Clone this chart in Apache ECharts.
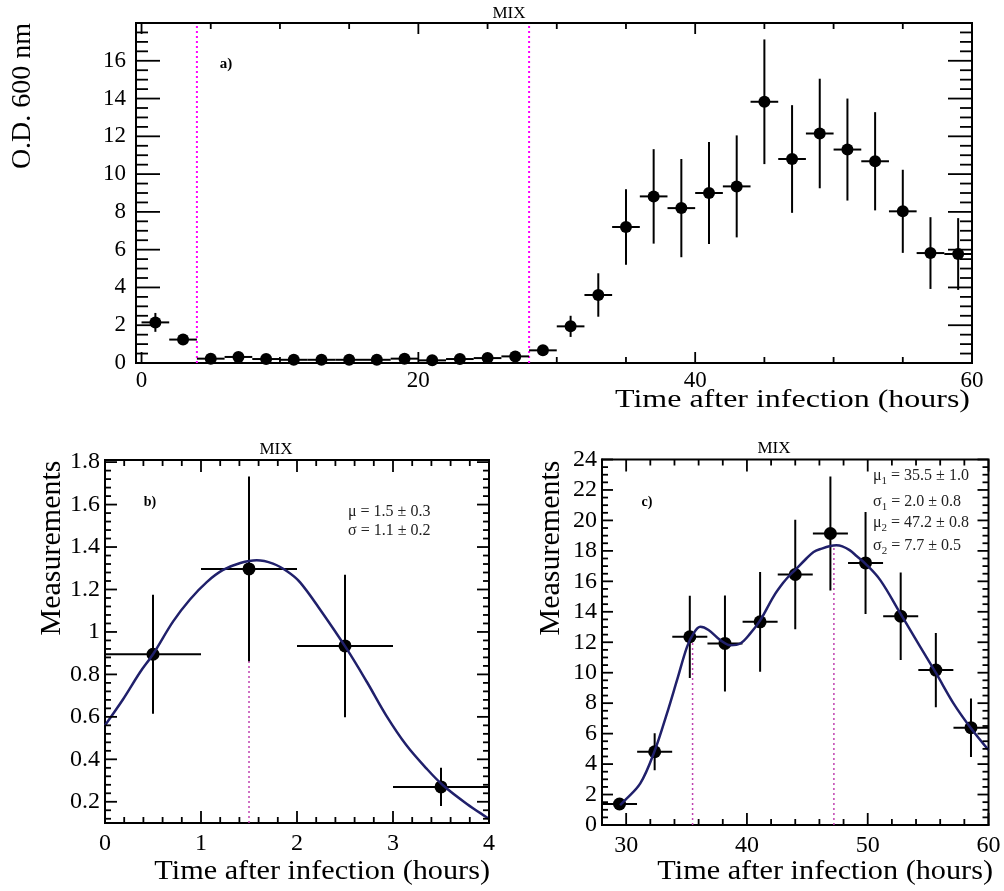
<!DOCTYPE html>
<html><head><meta charset="utf-8">
<script src="https://cdn.jsdelivr.net/npm/echarts@6/dist/echarts.min.js"></script>
<style>html,body{margin:0;padding:0;background:#fff}#c{width:1004px;height:891px}</style>
</head><body><div id="c"></div>
<script>
// ---------- Panel a: O.D. 600 nm vs time ----------
const aX = [1,3,5,7,9,11,13,15,17,19,21,23,25,27,29,31,33,35,37,39,41,43,45,47,49,51,53,55,57,59];
const aY = [2.15,1.24,0.23,0.32,0.21,0.17,0.17,0.17,0.17,0.23,0.14,0.21,0.26,0.35,0.67,1.94,3.6,7.2,8.82,8.2,9.0,9.35,13.83,10.8,12.15,11.3,10.68,8.03,5.82,5.77];
const aYErr = [0.5,0.2,0.05,0.05,0.05,0.05,0.05,0.05,0.05,0.05,0.05,0.05,0.05,0.08,0.1,0.56,1.15,2.0,2.5,2.6,2.7,2.7,3.3,2.85,2.9,2.7,2.6,2.2,1.9,1.9];
const aXHalf = 1;
const aLinesX = [4, 28];
const aXLabels = [0, 20, 40, 60];
const aYLabels = [0, 2, 4, 6, 8, 10, 12, 14, 16];
const aYMajor = [0, 2, 4, 6, 8, 10, 12, 14, 16, 18];

// ---------- Panel b: 0-4 h fit ----------
const bX = [0.5, 1.5, 2.5, 3.5];
const bY = [0.895, 1.297, 0.934, 0.27];
const bYErr = [0.28, 0.435, 0.336, 0.09];
const bXHalf = 0.5;
const bCurveX = [0,0.19,0.365,0.5,0.71,0.885,1.06,1.23,1.41,1.58,1.75,1.9,2.03,2.24,2.52,2.73,2.93,3.14,3.35,3.52,3.77,4.0];
const bCurveY = [0.56,0.684,0.81,0.895,1.05,1.153,1.235,1.292,1.325,1.338,1.322,1.285,1.235,1.106,0.919,0.763,0.606,0.466,0.356,0.278,0.19,0.12];
const bMuX = [1.5];
const bMuTop = [1.33];
const bXLabels = [0, 1, 2, 3, 4];
const bYLabels = [0.2, 0.4, 0.6, 0.8, 1, 1.2, 1.4, 1.6, 1.8];

// ---------- Panel c: 28-60 h fit ----------
const cX = [29.45,32.36,35.27,38.18,41.09,44.0,46.91,49.82,52.73,55.64,58.55];
const cY = [1.38,4.81,12.36,11.92,13.34,16.45,19.14,17.21,13.71,10.17,6.39];
const cYErr = [0.3,1.22,2.7,3.15,3.28,3.6,3.75,3.35,2.87,2.43,1.92];
const cXHalf = 1.45;
const cCurveX = [29.5,29.79,31.17,32.33,33.38,34.21,35.04,35.58,36.14,36.82,37.79,38.62,39.45,40.28,41.11,42.2,43.0,43.6,44.0,44.8,45.52,46.2,46.9,47.4,47.9,48.5,49.1,49.8,51.04,52.7,54.35,55.67,57.1,58.55,60.0];
const cCurveY = [1.3,1.53,2.73,4.8,7.33,9.51,11.7,12.58,13.01,12.8,12.14,11.81,11.92,12.58,13.45,15.0,15.9,16.45,16.75,17.4,17.93,18.15,18.32,18.37,18.3,18.05,17.65,17.17,16.08,13.89,11.7,9.95,7.99,6.35,4.92];
const cMuX = [35.5, 47.2];
const cMuTop = [12.5, 18.3];
const cXLabels = [30, 40, 50, 60];
const cYLabels = [0,2,4,6,8,10,12,14,16,18,20,22,24];

const FONT = "'Liberation Serif','Times New Roman',serif";

function steps(start, end, step) {
  const out = [];
  for (let i = 0; ; i++) {
    const v = +(start + i * step).toFixed(6);
    if (v > end + 1e-9) break;
    out.push(v);
  }
  return out;
}
function minorsOf(start, end, step, majors) {
  return steps(start, end, step).filter(v => !majors.some(m => Math.abs(m - v) < 1e-6));
}

function axisOf(dim, gi, min, max, labels, fs, margin) {
  return {type: 'value', gridIndex: gi, min: min, max: max, position: dim === 'x' ? 'bottom' : 'left', silent: true,
    splitLine: {show: false},
    axisLine: {show: true, onZero: false, lineStyle: {color: '#000', width: 2}},
    axisTick: {show: false},
    axisLabel: {show: true, customValues: labels, color: '#000', fontFamily: FONT, fontSize: fs, margin: margin}};
}

// Frame ticks (inside, on all four sides), positioned through the axis scales.
function makeTickRender(ext) {
  return function (params, api) {
    const isX = api.value(2) === 0;
    const len = api.value(3);
    const st = {stroke: '#000', lineWidth: 1.8};
    const c00 = api.coord([ext[0], ext[2]]);
    const c11 = api.coord([ext[1], ext[3]]);
    const xl = c00[0], xr = c11[0], yb = c00[1], yt = c11[1];
    let shapes;
    if (isX) {
      const px = api.coord([api.value(0), ext[2]])[0];
      shapes = [[px, yb, px, yb - len], [px, yt, px, yt + len]];
    } else {
      const py = api.coord([ext[0], api.value(1)])[1];
      shapes = [[xl, py, xl + len, py], [xr, py, xr - len, py]];
    }
    return {type: 'group', children: shapes.map(s => ({type: 'line', shape: {x1: s[0], y1: s[1], x2: s[2], y2: s[3]}, style: st}))};
  };
}
function tickSeries(gi, ext, xMaj, xMin, yMaj, yMin, xLens, yLens) {
  const xRef = (ext[0] + ext[1]) / 2, yRef = (ext[2] + ext[3]) / 2;
  const rows = [];
  xMaj.forEach(v => rows.push([v, yRef, 0, xLens[0]]));
  xMin.forEach(v => rows.push([v, yRef, 0, xLens[1]]));
  yMaj.forEach(v => rows.push([xRef, v, 1, yLens[0]]));
  yMin.forEach(v => rows.push([xRef, v, 1, yLens[1]]));
  return {type: 'custom', xAxisIndex: gi, yAxisIndex: gi, renderItem: makeTickRender(ext), clip: false, z: 6,
    silent: true, encode: {x: 0, y: 1}, data: rows};
}

function errRender(params, api) {
  const x = api.value(0), y = api.value(1), ey = api.value(2), ex = api.value(3);
  const p0 = api.coord([x, y - ey]), p1 = api.coord([x, y + ey]);
  const h0 = api.coord([x - ex, y]), h1 = api.coord([x + ex, y]);
  const style = {stroke: '#000', lineWidth: 2};
  return {type: 'group', children: [
    {type: 'line', shape: {x1: p0[0], y1: p0[1], x2: p1[0], y2: p1[1]}, style: style},
    {type: 'line', shape: {x1: h0[0], y1: h0[1], x2: h1[0], y2: h1[1]}, style: style}
  ]};
}
function panelSeries(gi, xs, ys, errs, half, size) {
  return [
    {type: 'custom', xAxisIndex: gi, yAxisIndex: gi, renderItem: errRender, clip: true, z: 3,
     encode: {x: 0, y: 1}, silent: true,
     data: xs.map((x, i) => [x, ys[i], errs[i], half])},
    {type: 'scatter', xAxisIndex: gi, yAxisIndex: gi, symbol: 'circle', symbolSize: size, z: 4,
     itemStyle: {color: '#000', opacity: 1}, silent: true,
     data: xs.map((x, i) => [x, ys[i]])}
  ];
}
function vline(gi, x, y0, y1, color, width, dash) {
  return {type: 'line', xAxisIndex: gi, yAxisIndex: gi, symbol: 'none', z: 2, silent: true,
    lineStyle: {color: color, width: width, type: dash}, data: [[x, y0], [x, y1]]};
}
function curve(gi, xs, ys) {
  return {type: 'line', xAxisIndex: gi, yAxisIndex: gi, symbol: 'none', smooth: 0.35, z: 5, silent: true,
    lineStyle: {color: '#20206b', width: 2.5}, data: xs.map((x, i) => [x, ys[i]])};
}

const extA = [-0.4, 60, 0, 18];
const extB = [0, 4, 0.1, 1.81];
const extC = [28, 60, 0, 24];

const frame = {show: true, borderColor: '#000', borderWidth: 2, backgroundColor: 'transparent'};
const grids = [
  Object.assign({left: 136, top: 23, width: 836, height: 340}, frame),
  Object.assign({left: 105, top: 460, width: 384, height: 363}, frame),
  Object.assign({left: 602, top: 459.5, width: 386.5, height: 365.5}, frame)
];

const xAxes = [
  axisOf('x', 0, extA[0], extA[1], aXLabels, 23, 6),
  axisOf('x', 1, extB[0], extB[1], bXLabels, 24, 9),
  axisOf('x', 2, extC[0], extC[1], cXLabels, 24, 9)
];
const yAxes = [
  axisOf('y', 0, extA[2], extA[3], aYLabels, 23, 10),
  axisOf('y', 1, extB[2], extB[3], bYLabels, 24, 5),
  axisOf('y', 2, extC[2], extC[3], cYLabels, 24, 5)
];

const series = [].concat(
  [tickSeries(0, extA, aXLabels, minorsOf(0, 60, 5, aXLabels), aYMajor, minorsOf(0, 18, 0.5, aYMajor), [11, 6], [24, 12])],
  panelSeries(0, aX, aY, aYErr, aXHalf, 12),
  aLinesX.map(x => vline(0, x, 0, 18, '#ff00ff', 2, [2, 3])),

  [tickSeries(1, extB, bXLabels, minorsOf(0, 4, 0.2, bXLabels), bYLabels, minorsOf(0.12, 1.8, 0.04, bYLabels), [12, 6], [12, 6])],
  panelSeries(1, bX, bY, bYErr, bXHalf, 13),
  bMuX.map((x, i) => vline(1, x, 0.1, bMuTop[i], '#c040b0', 1.5, [2, 3])),
  [curve(1, bCurveX, bCurveY)],

  [tickSeries(2, extC, cXLabels, minorsOf(28, 60, 2, cXLabels), cYLabels, minorsOf(0, 24, 0.5, cYLabels), [12, 6], [11, 6])],
  panelSeries(2, cX, cY, cYErr, cXHalf, 13),
  cMuX.map((x, i) => vline(2, x, 0, cMuTop[i], '#c040b0', 1.5, [2, 3])),
  [curve(2, cCurveX, cCurveY)]
);

function txt(x, y, text, size, opts) {
  return Object.assign({type: 'text', x: x, y: y, silent: true, z: 10,
    style: Object.assign({text: text, fontSize: size, fontFamily: FONT, fill: '#000', align: 'left', verticalAlign: 'middle'}, (opts && opts.style) || {})},
    (opts && opts.el) || {});
}
const sub = {a: {fontSize: 16, fontFamily: FONT, fill: '#222'}, s: {fontSize: 11, fontFamily: FONT, fill: '#222', verticalAlign: 'bottom', lineHeight: 22}};

const graphic = [
  txt(509, 14, 'MIX', 17, {style: {align: 'center'}}),
  txt(226, 64, 'a)', 15, {style: {align: 'center', fontWeight: 'bold'}}),
  txt(23, 96, 'O.D. 600 nm', 28, {style: {align: 'center'}, el: {rotation: Math.PI / 2}}),
  txt(970, 400, 'Time after infection (hours)', 26, {style: {align: 'right'}, el: {scaleX: 1.23}}),

  txt(276, 450, 'MIX', 17, {style: {align: 'center'}}),
  txt(150, 502, 'b)', 14, {style: {align: 'center', fontWeight: 'bold'}}),
  txt(348, 512, 'μ = 1.5 ± 0.3', 16, {style: {fill: '#222'}}),
  txt(348, 531, 'σ = 1.1 ± 0.2', 16, {style: {fill: '#222'}}),
  txt(52, 548, 'Measurements', 30, {style: {align: 'center'}, el: {rotation: Math.PI / 2}}),
  txt(490, 872, 'Time after infection (hours)', 27, {style: {align: 'right'}, el: {scaleX: 1.12}}),

  txt(774, 449, 'MIX', 17, {style: {align: 'center'}}),
  txt(647, 502, 'c)', 14, {style: {align: 'center', fontWeight: 'bold'}}),
  txt(873, 476, '{a|μ}{s|1}{a| = 35.5 ± 1.0}', 16, {style: {rich: sub}}),
  txt(873, 502, '{a|σ}{s|1}{a| = 2.0 ± 0.8}', 16, {style: {rich: sub}}),
  txt(873, 523, '{a|μ}{s|2}{a| = 47.2 ± 0.8}', 16, {style: {rich: sub}}),
  txt(873, 546, '{a|σ}{s|2}{a| = 7.7 ± 0.5}', 16, {style: {rich: sub}}),
  txt(551, 548, 'Measurements', 30, {style: {align: 'center'}, el: {rotation: Math.PI / 2}}),
  txt(993, 872, 'Time after infection (hours)', 27, {style: {align: 'right'}, el: {scaleX: 1.12}})
];

const chart = echarts.init(document.getElementById('c'), null, {renderer: 'canvas'});
chart.setOption({
  animation: false,
  backgroundColor: '#fff',
  grid: grids,
  xAxis: xAxes,
  yAxis: yAxes,
  series: series,
  graphic: graphic
});
</script></body></html>
